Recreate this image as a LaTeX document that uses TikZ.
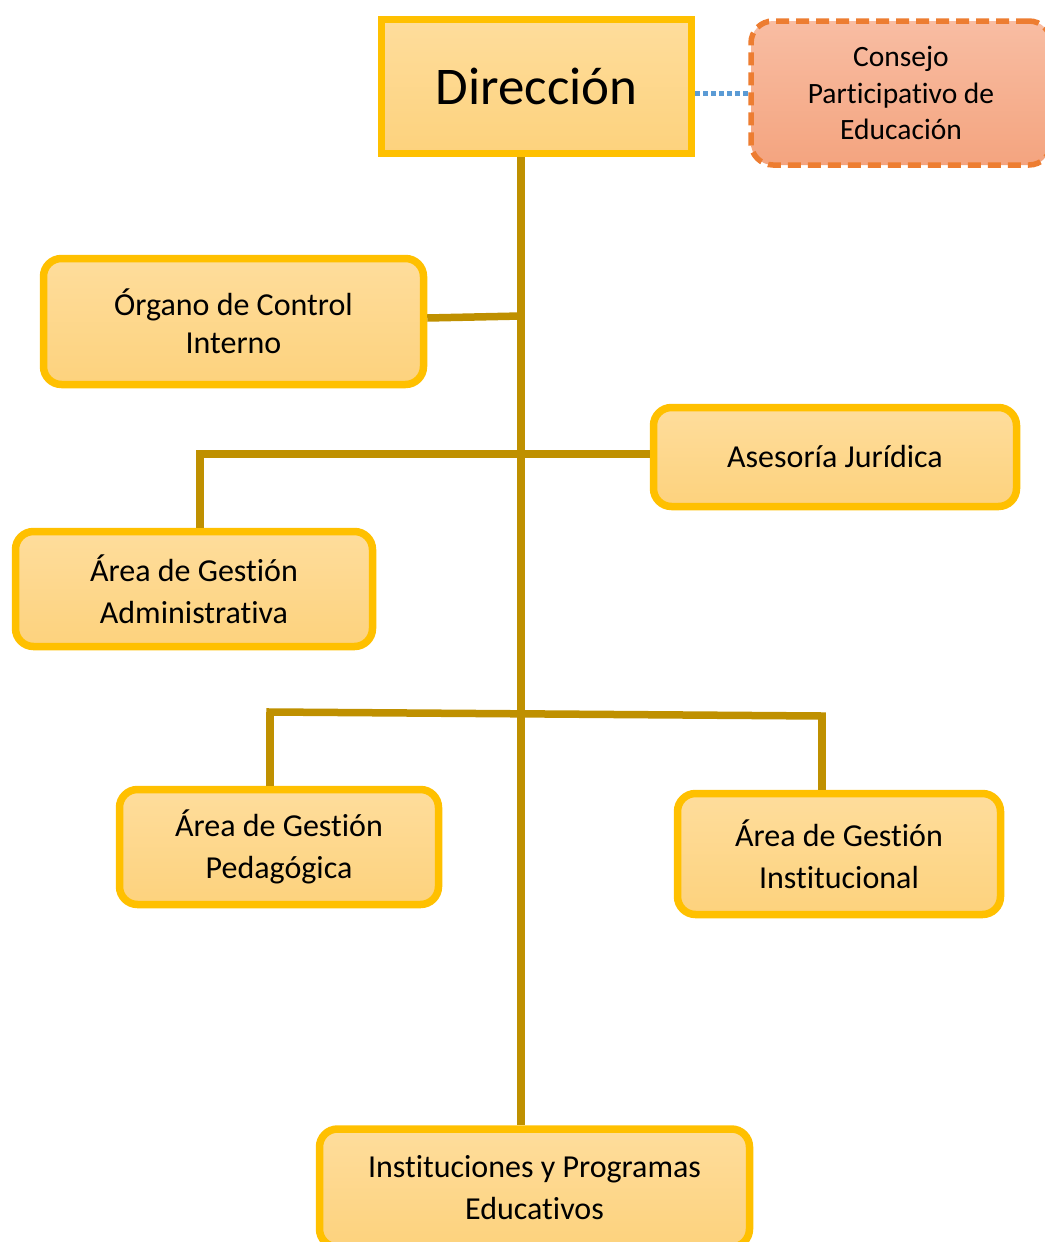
\documentclass[tikz,border=0pt]{standalone}
\usepackage{fontspec}
\setmainfont[Ligatures=CommonOff]{Carlito}
\definecolor{boxline}{HTML}{FFC000}
\definecolor{boxtop}{HTML}{FEDD9C}
\definecolor{boxbot}{HTML}{FDD27D}
\definecolor{conline}{HTML}{BF9000}
\definecolor{orline}{HTML}{ED7D31}
\definecolor{ortop}{HTML}{F8BDA3}
\definecolor{orbot}{HTML}{F4A47F}
\definecolor{blueline}{HTML}{5B9BD5}
\tikzset{
  unitbox/.style={draw=boxline, line width=7.5pt, rounded corners=18pt,
    top color=boxtop, bottom color=boxbot, inner sep=0pt, align=center,
    font=\fontsize{32}{42}\selectfont},
  conn/.style={draw=conline, line width=7.5pt},
}
\begin{document}
\begin{tikzpicture}[x=1pt,y=-1pt]
\useasboundingbox (0,0) rectangle (1044,1242);
% boxes
\node[unitbox, rounded corners=0pt, minimum width=310pt, minimum height=134pt,
  font=\fontsize{53}{60}\selectfont] (dir) at (536.5,86.5) {Dirección};
\node[draw=orline, line width=5.5pt, dash pattern=on 13pt off 7pt, rounded corners=22pt,
  top color=ortop, bottom color=orbot, minimum width=300pt, minimum height=144pt,
  align=center, inner sep=0pt, font=\fontsize{29.5}{36.5}\selectfont]
  (con) at (901,93) {Consejo\\Participativo de\\Educación};
\node[unitbox, minimum width=380pt, minimum height=126pt, font=\fontsize{32}{38}\selectfont]
  (org) at (233.5,321.5) {Órgano de Control\\Interno};
\node[unitbox, minimum width=363pt, minimum height=99pt] (ase) at (835,457) {Asesoría Jurídica};
\node[unitbox, minimum width=357pt, minimum height=115pt] (adm) at (194,589) {Área de Gestión\\Administrativa};
\node[unitbox, minimum width=319pt, minimum height=115pt] (ped) at (279,847) {Área de Gestión\\Pedagógica};
\node[unitbox, minimum width=323pt, minimum height=121pt] (ins) at (839,854) {Área de Gestión\\Institucional};
\node[unitbox, minimum width=430pt, minimum height=118pt] (ipe) at (534.5,1188) {Instituciones y Programas\\Educativos};
% junction coordinates
\coordinate (jorg) at (521,316);
\coordinate (jase) at (521,454);
\coordinate (jadm) at (200,454);
\coordinate (jped) at (270,712);
\coordinate (jins) at (822,716);
% connectors
\draw[conn] (dir.south -| jorg) -- (ipe.north -| jorg);
\draw[conn] (org.east |- 0,318) -- (jorg);
\draw[conn] (ase.west |- jase) -- (jadm) -- (adm.north -| jadm);
\draw[conn, line cap=rect] (jped) -- (jins);
\draw[conn] (jped) -- (ped.north -| jped);
\draw[conn] (jins) -- (ins.north -| jins);
\draw[draw=blueline, line width=5pt, dash pattern=on 5pt off 3pt] (dir.east |- con) -- (con.west);
\end{tikzpicture}
\end{document}
